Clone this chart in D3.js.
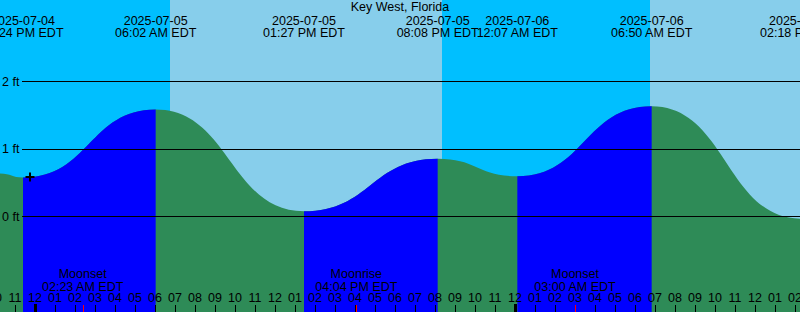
<!DOCTYPE html>
<html>
<head>
<meta charset="utf-8">
<script src="https://cdn.jsdelivr.net/npm/d3@7"></script>
<style>
  body { margin: 0; background: #fff; }
  svg { display: block; font-family: 'Liberation Sans', Arial, sans-serif; font-size: 12.5px; }
</style>
</head>
<body>
<script>
// tide graph, Key West
const width = 800;
const height = 312;

const station = 'Key West, Florida';

// window shown on the chart (local time)
const windowStart = '2025-07-04 22:15';
const windowEnd = '2025-07-06 14:15';
const startHeight = 0.63; // level at the left edge

// high / low tides
const tideTimes = ['2025-07-04 23:24', '2025-07-05 06:02', '2025-07-05 13:27', '2025-07-05 20:08',
                   '2025-07-06 00:07', '2025-07-06 06:50', '2025-07-06 14:18'];
const tideTypes = ['Low', 'High', 'Low', 'High', 'Low', 'High', 'Low'];
const tideHeights = [0.57, 1.58, 0.07, 0.85, 0.59, 1.63, -0.04];

// sun and moon
const sunTimes = ['2025-07-05 06:45', '2025-07-05 20:21', '2025-07-06 06:45'];
const sunEvents = ['rise', 'set', 'rise'];
const moonTimes = ['2025-07-05 02:23', '2025-07-05 16:04', '2025-07-06 03:00'];
const moonEvents = ['Moonset', 'Moonrise', 'Moonset'];

// "+" mark
const markTime = '2025-07-04 23:45';
const markHeight = 0.58;

const feetTicks = [0, 1, 2];

const parse = d3.timeParse('%Y-%m-%d %H:%M');
const fmtDate = d3.timeFormat('%Y-%m-%d');
const fmtTime = d => d3.timeFormat('%I:%M %p')(d) + ' EDT';
const fmtHour = d3.timeFormat('%I');

const x = d3.scaleTime()
    .domain([parse(windowStart), parse(windowEnd)])
    .range([0, width]);

const y = d3.scaleLinear()
    .domain([0, 2])
    .range([216, 81.3]);

const tides = tideTimes.map((t, i) => ({t: parse(t), type: tideTypes[i], h: tideHeights[i]}));
const curve = [{t: parse(windowStart), h: startHeight}, ...tides];

const svg = d3.select('body').append('svg')
    .attr('width', width)
    .attr('height', height);

// day / night sky
const bounds = [x.domain()[0], ...sunTimes.map(parse), x.domain()[1]];
svg.append('g').selectAll('rect')
    .data(d3.pairs(bounds))
    .join('rect')
    .attr('x', d => x(d[0]))
    .attr('width', d => x(d[1]) - x(d[0]))
    .attr('y', 0)
    .attr('height', height)
    .attr('fill', (d, i) => (i < sunEvents.length && sunEvents[i] === 'rise') ? '#00bfff' : '#87ceeb');

// water
const area = d3.area()
    .x(d => x(d.t))
    .y0(height)
    .y1(d => y(d.h))
    .curve(d3.curveBumpX);

// rising water (low -> high) in blue, falling in green
const rising = d3.pairs(tides).filter(p => p[0].type === 'Low');
svg.append('clipPath').attr('id', 'flood')
    .selectAll('rect')
    .data(rising)
    .join('rect')
    .attr('x', d => x(d[0].t))
    .attr('width', d => x(d[1].t) - x(d[0].t))
    .attr('y', 0)
    .attr('height', height);

svg.append('path')
    .datum(curve)
    .attr('fill', '#2e8b57')
    .attr('d', area);

svg.append('path')
    .datum(curve)
    .attr('fill', '#0000ff')
    .attr('clip-path', 'url(#flood)')
    .attr('d', area);

// feet lines
const grid = svg.append('g');
grid.selectAll('line')
    .data(feetTicks)
    .join('line')
    .attr('x1', 22).attr('x2', width)
    .attr('y1', d => Math.round(y(d)) + 0.5).attr('y2', d => Math.round(y(d)) + 0.5)
    .attr('stroke', '#000');
grid.selectAll('text')
    .data(feetTicks)
    .join('text')
    .attr('x', 2)
    .attr('y', d => y(d) + 4.5)
    .text(d => `${d} ft`);

// mark
const mx = x(parse(markTime)), my = y(markHeight);
svg.append('path')
    .attr('d', `M${mx - 4.5},${my}H${mx + 4.5}M${mx},${my - 4.5}V${my + 4.5}`)
    .attr('stroke', '#000')
    .attr('stroke-width', 2);

// title + tide labels
svg.append('text')
    .attr('x', width / 2).attr('y', 11)
    .attr('text-anchor', 'middle')
    .text(station);

const tl = svg.append('g').attr('text-anchor', 'middle')
    .selectAll('text')
    .data(tides)
    .join('text');
tl.append('tspan').attr('x', d => x(d.t)).attr('y', 24.5).text(d => fmtDate(d.t));
tl.append('tspan').attr('x', d => x(d.t)).attr('y', 36.5).text(d => fmtTime(d.t));

// moon labels
const moon = moonTimes.map((t, i) => ({t: parse(t), name: moonEvents[i]}));
const ml = svg.append('g').attr('text-anchor', 'middle')
    .selectAll('text')
    .data(moon)
    .join('text');
ml.append('tspan').attr('x', d => x(d.t)).attr('y', 277.5).text(d => d.name);
ml.append('tspan').attr('x', d => x(d.t)).attr('y', 290.5).text(d => fmtTime(d.t));

// hour ticks
const hours = d3.timeHour.range(d3.timeHour.offset(x.domain()[0], -1), x.domain()[1]);
const ticks = svg.append('g');
ticks.selectAll('text')
    .data(hours)
    .join('text')
    .attr('x', d => x(d))
    .attr('y', 301.5)
    .attr('text-anchor', 'middle')
    .text(d => fmtHour(d));
ticks.selectAll('line')
    .data(hours)
    .join('line')
    .attr('x1', d => Math.round(x(d)) + 0.5).attr('x2', d => Math.round(x(d)) + 0.5)
    .attr('y1', d => d.getHours() === 0 ? 304 : 305)
    .attr('y2', height)
    .attr('stroke', '#000')
    .attr('stroke-width', d => d.getHours() === 0 ? 3 : 1);

// moon ticks in red
svg.append('g').selectAll('line')
    .data(moon)
    .join('line')
    .attr('x1', d => Math.round(x(d.t)) + 0.5).attr('x2', d => Math.round(x(d.t)) + 0.5)
    .attr('y1', 305).attr('y2', height)
    .attr('stroke', '#ff0000');
</script>
</body>
</html>
